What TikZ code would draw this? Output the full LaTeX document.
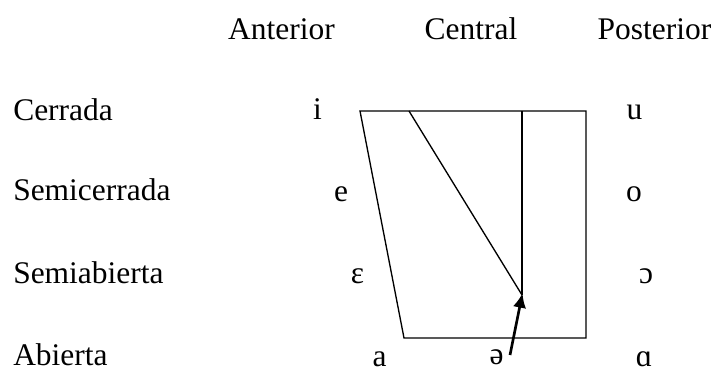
\documentclass[tikz,border=0pt]{standalone}
\usepackage{fontspec}
\setmainfont{Liberation Serif}
\usepackage{tikz}
\usetikzlibrary{arrows.meta, positioning}
\tikzset{
  txt/.style={inner sep=0pt, font=\fontsize{23.6}{28}\selectfont},
  header/.style={txt, anchor=base},
  rowlabel/.style={txt, anchor=base west},
  vowel/.style={txt, anchor=base},
  trap/.style={line width=1pt, line join=miter},
  arrow/.style={-{Latex[length=11pt, width=10pt]}, line width=2pt},
}

\begin{document}
\begin{tikzpicture}[x=0.75pt, y=-0.75pt]
        \useasboundingbox (0,0) rectangle (717,369);

        % Column headings
        \node[header] (ant) at (281.5, 39) {Anterior};
        \node[header] (cen) at (471, 39) {Central};
        \node[header] (pos) at (654.5, 39) {Posterior};

        % Row labels
        \foreach \name/\y/\lbl in {cer/120/Cerrada, scer/200/Semicerrada, sab/283/Semiabierta, ab/365/Abierta} {
          \node[rowlabel] (\name) at (13, \y) {\lbl};
        }

        % Vowels
        \node[vowel] (vi) at (317.5, 119) {i};
        \node[vowel] (ve) at (341, 201) {e};
        \node[vowel] (veps) at (357.5, 283) {ɛ};
        \node[vowel] (va) at (379.5, 366) {a};
        \node[vowel] (vschwa) at (496.5, 364) {ə};
        \node[vowel] (vu) at (634.5, 119) {u};
        \node[vowel] (vo) at (634, 201) {o};
        \node[vowel] (vopen) at (646, 283) {ɔ};
        \node[vowel] (valpha) at (644, 366) {ɑ};

        % Vowel chart
        \coordinate (tl) at (360, 111);
        \coordinate (tr) at (586, 111);
        \coordinate (br) at (586, 338);
        \coordinate (bl) at (404, 338);
        \coordinate (tm) at (409, 111);
        \coordinate (tc) at (522, 111);
        \coordinate (mid) at (522, 295);
        \coordinate (tip) at (522.5, 293);
        \coordinate (tail) at (510, 355);
        \draw[trap] (tl) -- (tr) -- (br) -- (bl) -- cycle;
        \draw[trap] (tc) -- (mid);
        \draw[trap] (tm) -- (mid);

        % Arrow to central point
        \draw[arrow] (tail) -- (tip);
      \end{tikzpicture}
\end{document}
